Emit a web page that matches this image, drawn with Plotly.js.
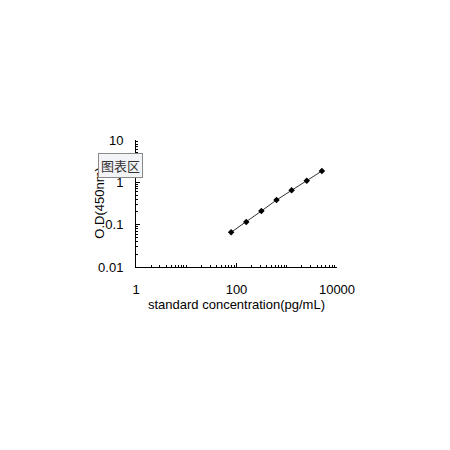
<!DOCTYPE html>
<html>
<head>
<meta charset="utf-8">
<script src="https://cdn.plot.ly/plotly-3.0.1.min.js"></script>
<style>
  html, body { margin: 0; padding: 0; background: #fff; }
  #chart { width: 450px; height: 450px; }
</style>
</head>
<body>
<div id="chart"></div>
<script>
// standard curve points
const concentration = [78.125, 156.25, 312.5, 625, 1250, 2500, 5000];
const odValues = [0.066, 0.116, 0.21, 0.383, 0.65, 1.09, 1.85];
const xTickVals = [1, 100, 10000];
const xTickText = ['1', '100', '10000'];
const yTickVals = [0.01, 0.1, 1, 10];
const yTickText = ['0.01', '0.1', '1', '10'];

const chart = document.getElementById('chart');

var curve = {
    x: concentration,
    y: odValues,
    mode: 'lines+markers',
    type: 'scatter',
    line: {color: '#333333', width: 1},
    marker: {symbol: 'diamond', size: 5, color: '#000000'},
    showlegend: false,
    hoverinfo: 'skip'
};

var layout = {
    width: 450,
    height: 450,
    paper_bgcolor: '#ffffff',
    plot_bgcolor: '#ffffff',
    margin: { l: 136, r: 113, t: 140, b: 183 },
    font: { family: 'Liberation Sans, Arial, sans-serif', size: 13, color: '#000' },
    xaxis: {
        type: 'log',
        range: [0, 4],
        tickvals: xTickVals,
        ticktext: xTickText,
        ticks: 'inside',
        ticklen: 4,
        tickcolor: '#000',
        ticklabelstandoff: 10,
        minor: { ticks: 'inside', ticklen: 2, tickcolor: '#000', dtick: 'D1' },
        showline: true,
        linecolor: '#000',
        linewidth: 1,
        showgrid: false,
        zeroline: false,
        tickfont: { size: 13 },
        title: { text: 'standard concentration(pg/mL)', font: { size: 13 }, standoff: 4 }
    },
    yaxis: {
        type: 'log',
        range: [-2, 1],
        tickvals: yTickVals,
        ticktext: yTickText,
        ticks: 'inside',
        ticklen: 4,
        tickcolor: '#000',
        ticklabelstandoff: 9,
        minor: { ticks: 'inside', ticklen: 2, tickcolor: '#000', dtick: 'D1' },
        showline: true,
        linecolor: '#000',
        linewidth: 1,
        showgrid: false,
        zeroline: false,
        tickfont: { size: 13 }
    },
    annotations: [{
        // y axis title sits closer to the axis than plotly would put it
        xref: 'paper', yref: 'paper',
        x: -0.18, y: 0.505,
        xanchor: 'center', yanchor: 'middle',
        text: 'O.D(450nm)',
        textangle: -90,
        showarrow: false,
        font: { size: 13, color: '#000' }
    }, {
        xref: 'paper', yref: 'paper',
        x: -0.075, y: 0.80,
        xanchor: 'center', yanchor: 'middle',
        text: '图表区',
        showarrow: false,
        font: { family: 'Noto Sans CJK SC', size: 13, color: '#333' },
        bgcolor: '#f3f4f7',
        bordercolor: '#8a8a8a',
        borderwidth: 1,
        borderpad: 2
    }]
};

Plotly.newPlot(chart, [curve], layout, {displayModeBar: false, staticPlot: true});
</script>
</body>
</html>
